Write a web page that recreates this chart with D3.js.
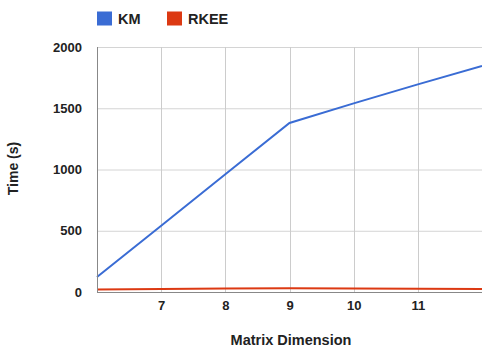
<!DOCTYPE html>
<html>
<head>
<meta charset="utf-8">
<script src="https://cdn.jsdelivr.net/npm/d3@7"></script>
<style>
  html, body { margin: 0; padding: 0; background: #fff; }
  svg { display: block; font-family: "Liberation Sans", Arial, sans-serif; }
</style>
</head>
<body>
<svg id="chart" width="482" height="348"></svg>
<script>
// Run time per matrix dimension
const dimensions = [6, 7, 8, 9, 10, 11, 12];
const kmTimes = [122, 541, 961, 1380, 1540, 1695, 1845];
const rkeeTimes = [20, 24, 28, 30, 28, 26, 24];
const seriesNames = ["KM", "RKEE"];
const seriesColors = ["#3a6cd4", "#dc3912"];
const yTicks = [0, 500, 1000, 1500, 2000];
const xTicks = [7, 8, 9, 10, 11];

const svg = d3.select("#chart");
const plotL = 97, plotR = 482, plotT = 47, plotB = 292;
const textColor = "#222";

const x = d3.scaleLinear().domain([6, 12]).range([plotL, plotR]);
const y = d3.scaleLinear().domain([0, 2000]).range([plotB, plotT]);

// Grid
svg.append("g").selectAll("line").data(yTicks.filter(d => d > 0)).join("line")
  .attr("x1", plotL).attr("x2", plotR)
  .attr("y1", d => y(d) + 0.5).attr("y2", d => y(d) + 0.5)
  .attr("stroke", "#d4d4d4").attr("stroke-width", 1);
svg.append("g").selectAll("line").data(xTicks).join("line")
  .attr("x1", d => Math.round(x(d)) + 0.5).attr("x2", d => Math.round(x(d)) + 0.5)
  .attr("y1", plotT).attr("y2", plotB)
  .attr("stroke", "#cccccc").attr("stroke-width", 1);

// Axes (labels only; domain lines drawn separately)
const yAxis = d3.axisLeft(y).tickValues(yTicks).tickFormat(d3.format("d"))
  .tickSize(0).tickPadding(15);
svg.append("g").attr("transform", `translate(${plotL},0)`).call(yAxis)
  .call(g => g.select(".domain").remove())
  .selectAll("text")
  .attr("font-size", 13).attr("font-weight", "bold").attr("fill", textColor)
  .attr("font-family", "Liberation Sans, Arial, sans-serif");

const xAxis = d3.axisBottom(x).tickValues(xTicks).tickFormat(d3.format("d"))
  .tickSize(0).tickPadding(9);
svg.append("g").attr("transform", `translate(0,${plotB})`).call(xAxis)
  .call(g => g.select(".domain").remove())
  .selectAll("text")
  .attr("font-size", 13).attr("font-weight", "bold").attr("fill", textColor)
  .attr("font-family", "Liberation Sans, Arial, sans-serif");

// Lines
const line = d3.line().x((d, i) => x(dimensions[i])).y(d => y(d));
[[rkeeTimes, 1], [kmTimes, 0]].forEach(([vals, idx]) => {
  svg.append("path").datum(vals)
    .attr("fill", "none")
    .attr("stroke", seriesColors[idx])
    .attr("stroke-width", 2)
    .attr("d", line);
});

// Axis baselines
svg.append("line").attr("x1", plotL + 0.5).attr("x2", plotL + 0.5)
  .attr("y1", plotT).attr("y2", plotB + 1).attr("stroke", "#888").attr("stroke-width", 1);
svg.append("line").attr("x1", plotL).attr("x2", plotR)
  .attr("y1", plotB + 0.5).attr("y2", plotB + 0.5).attr("stroke", "#888").attr("stroke-width", 1);

// Axis titles
svg.append("text").attr("x", 291).attr("y", 345)
  .attr("text-anchor", "middle").attr("font-size", 14.5).attr("font-weight", "bold")
  .attr("fill", textColor).text("Matrix Dimension");
svg.append("text").attr("transform", "translate(18,168.5) rotate(-90)")
  .attr("text-anchor", "middle").attr("font-size", 14).attr("font-weight", "bold")
  .attr("fill", textColor).text("Time (s)");

// Legend
const legendX = [97, 167];
seriesNames.forEach((name, i) => {
  const g = svg.append("g").attr("transform", `translate(${legendX[i]},11)`);
  g.append("rect").attr("width", 15).attr("height", 14).attr("y", 0.5).attr("fill", seriesColors[i]);
  g.append("text").attr("x", 21).attr("y", 13.2).attr("font-size", 14.5)
    .attr("font-weight", "bold").attr("fill", textColor).text(name);
});
</script>
</body>
</html>
